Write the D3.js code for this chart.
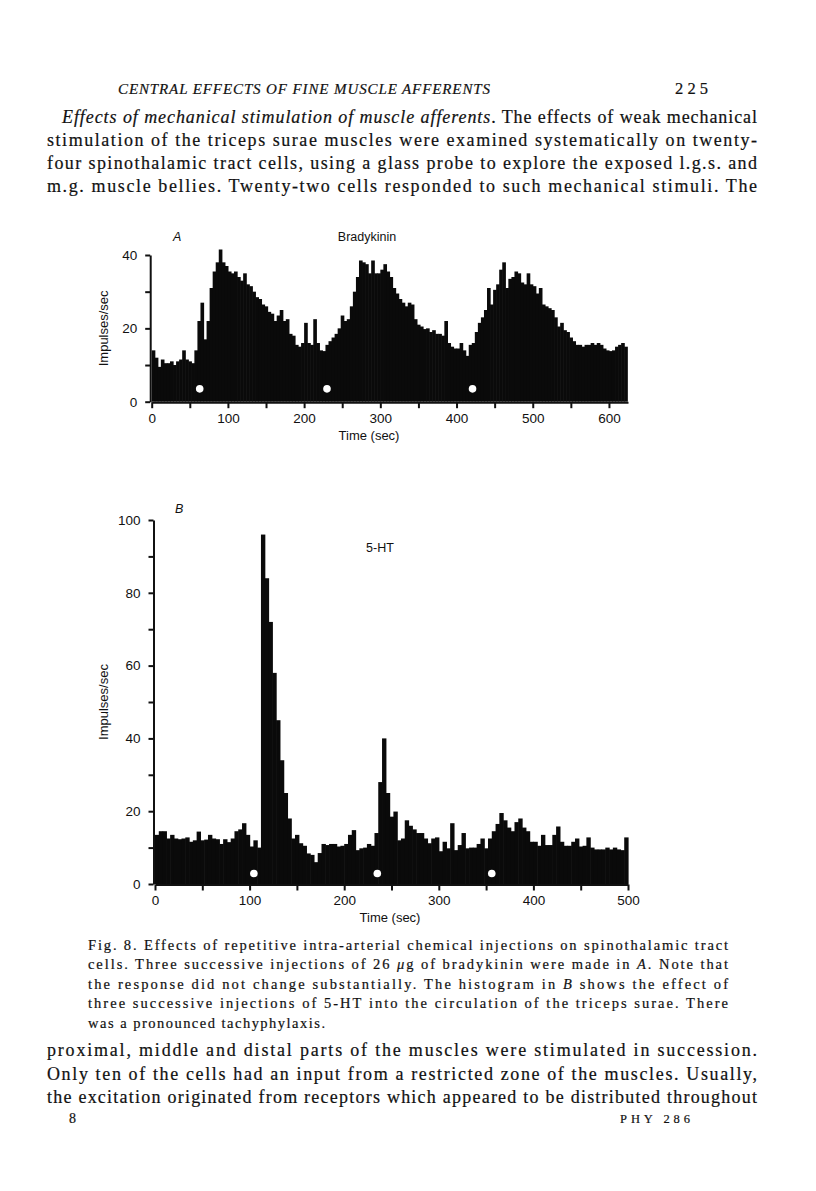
<!DOCTYPE html>
<html>
<head>
<meta charset="utf-8">
<script src="https://cdn.jsdelivr.net/npm/d3@7"></script>
<style>
  body { margin: 0; background: #fff; }
  svg { display: block; }
  .page { font-family: "Liberation Serif", "Times New Roman", serif; fill: #111; stroke: #111; stroke-width: 0.2px; }
  .lab { font-family: "Liberation Sans", Arial, sans-serif; fill: #111; }
  .axis path, .axis line { stroke: #111; stroke-width: 2; }
  .axis text { font-family: "Liberation Sans", Arial, sans-serif; font-size: 13.5px; fill: #111; }
</style>
</head>
<body>
<svg id="page" width="816" height="1191"></svg>
<script>
// bin width in seconds for both histograms
const binA = 4
const binB = 4

// A: bradykinin, impulses/sec per 4 s bin, 0-624 s
const bradykinin = [
  14, 12, 9.5, 11.5, 10.5, 10.5, 11, 10, 11, 11.5,
  14, 11.5, 11, 10.5, 14, 22, 27, 17, 22, 31,
  35.5, 38, 41.5, 38, 37, 35.5, 35, 35.5, 34, 33,
  35, 32, 31.5, 30, 28.5, 28, 26.5, 26, 24.5, 24,
  22, 23.5, 25, 22, 22.5, 18.5, 18, 15.5, 15, 16,
  21.5, 16, 15.5, 22.5, 16, 14, 13.8, 15.5, 16.5, 17.5,
  18.5, 20, 23.5, 22, 22.5, 26, 30, 34, 38.5, 38,
  37.5, 35, 38.5, 35, 35, 36, 37.5, 35.5, 34, 31,
  29.5, 28, 27, 26, 27, 26.5, 22.5, 21, 20.5, 19.8,
  20, 19, 19.5, 18.5, 18.5, 18, 22, 16, 15, 14.5,
  14.5, 16, 14, 12.5, 15.5, 16, 19, 21.5, 23, 25,
  31, 26.5, 30.5, 32, 36, 38, 31, 33.5, 34, 35.5,
  35, 32.5, 32, 35, 32, 31.5, 29.5, 31, 26.5, 26,
  25.5, 25, 23, 20.5, 21.5, 19.5, 19, 17.5, 16.5, 15.5,
  15.5, 15, 15.5, 15.5, 16, 15.5, 16, 15.5, 14.5, 14,
  13.8, 14, 15, 15.5, 16, 15
]

// B: 5-HT, impulses/sec per 4 s bin, 0-500 s
const serotonin = [
  13.5, 14.5, 14.5, 12.5, 13.5, 12.5, 12.3, 12.5, 12.8, 11.6,
  12, 14.4, 12, 12.2, 13.5, 12.5, 12.3, 11, 12.3, 11.5,
  12.5, 14.5, 15, 16.7, 13.5, 10.3, 12, 10, 96, 84,
  72, 58, 45, 34, 25, 18, 12.5, 13.5, 11.2, 10.5,
  8.4, 8, 6, 8.5, 11, 10.7, 11, 11, 10.3, 10.5,
  11, 13.5, 14.8, 9.3, 9.8, 10, 11, 10.5, 14, 28,
  40, 25, 18.5, 19.9, 12, 12.5, 17.5, 16, 15, 14,
  14, 12.5, 11.2, 12.5, 12.8, 9, 11.6, 9.8, 16.7, 9.3,
  10.7, 14, 9.8, 10, 10, 11, 12.5, 9.8, 12.5, 14.5,
  16.5, 19.5, 17.5, 15.5, 14.5, 17, 18, 15.5, 14.5, 11.6,
  11.6, 10.5, 13.5, 10.7, 10.7, 13.5, 15.8, 11.6, 10.5, 10.5,
  11.6, 12.5, 10.3, 10.5, 12.8, 10, 9.5, 9.5, 9.5, 10,
  9.5, 10, 9.5, 9.3, 12.8
]

// injection times (sec) and marker height (impulses/sec)
const injectA = [63, 230, 421]
const injectB = [104.5, 235, 356]
const dotLevelA = 3.5
const dotLevelB = 2.9

const svg = d3.select("#page")

svg.append("rect").attr("width", 816).attr("height", 1191).attr("fill", "#fff")

// ---------- page text ----------
function textLine(x, y, width, parts, size, anchor) {
  const t = svg.append("text").attr("class", "page")
    .attr("x", x).attr("y", y)
    .style("font-size", size + "px")
  if (anchor) t.attr("text-anchor", anchor)
  if (width) t.attr("textLength", width).attr("lengthAdjust", "spacing")
  parts.forEach(p => {
    const s = t.append("tspan").text(p[0])
    if (p[1] === "i") s.style("font-style", "italic")
  })
  return t
}

textLine(118, 94, 372, [["CENTRAL EFFECTS OF FINE MUSCLE AFFERENTS", "i"]], 15)
textLine(675, 94, 33, [["225"]], 16.5)

const bodyTop = [
  [[["Effects of mechanical stimulation of muscle afferents", "i"], [". The effects of weak mechanical"]], 62],
  [[["stimulation of the triceps surae muscles were examined systematically on twenty-"]], 47],
  [[["four spinothalamic tract cells, using a glass probe to explore the exposed l.g.s. and"]], 47],
  [[["m.g. muscle bellies. Twenty-two cells responded to such mechanical stimuli. The"]], 47]
]
bodyTop.forEach((l, i) => textLine(l[1], 123 + i * 23, 757 - l[1], l[0], 18))

const caption = [
  [["Fig. 8. Effects of repetitive intra-arterial chemical injections on spinothalamic tract"]],
  [["cells. Three successive injections of 26 "], ["\u03bc", "i"], ["g of bradykinin were made in "], ["A", "i"], [". Note that"]],
  [["the response did not change substantially. The histogram in "], ["B", "i"], [" shows the effect of"]],
  [["three successive injections of 5-HT into the circulation of the triceps surae. There"]]
]
caption.forEach((l, i) => textLine(88, 950 + i * 19.3, 640, l, 14.5))
textLine(88, 1028, 237, [["was a pronounced tachyphylaxis."]], 14.5)

const bodyBottom = [
  "proximal, middle and distal parts of the muscles were stimulated in succession.",
  "Only ten of the cells had an input from a restricted zone of the muscles. Usually,",
  "the excitation originated from receptors which appeared to be distributed throughout"
]
bodyBottom.forEach((l, i) => textLine(47, 1056 + i * 23.5, 710, [[l]], 18))
textLine(69, 1123, null, [["8"]], 14)
textLine(620, 1123, 70, [["PHY 286"]], 12.5)

// ---------- histogram helper ----------
function histogram(opt) {
  const g = svg.append("g")
  const x = opt.x, y = opt.y
  const w = x(opt.bin) - x(0)

  g.selectAll("rect.bin")
    .data(opt.values)
    .enter()
    .append("rect")
    .attr("class", "bin")
    .attr("x", (d, i) => x(i * opt.bin))
    .attr("width", w + 0.6)
    .attr("y", d => y(d))
    .attr("height", d => y(0) - y(d))
    .attr("fill", "#0a0a0a")

  g.selectAll("circle.inj")
    .data(opt.inject)
    .enter()
    .append("circle")
    .attr("class", "inj")
    .attr("cx", d => x(d))
    .attr("cy", y(opt.dotLevel))
    .attr("r", 3.8)
    .attr("fill", "#fff")

  const yAxis = d3.axisLeft(y)
    .tickValues(opt.yTicks)
    .tickFormat(d => opt.yLabels.includes(d) ? d : "")
    .tickSize(5).tickSizeOuter(0).tickPadding(8)
  g.append("g").attr("class", "axis")
    .attr("transform", "translate(" + (x(0) - 1.5) + ",0)")
    .call(yAxis)

  const xAxis = d3.axisBottom(x)
    .tickValues(opt.xTicks)
    .tickFormat(d => d % 100 === 0 ? d : "")
    .tickSize(6).tickSizeOuter(0).tickPadding(5)
  g.append("g").attr("class", "axis")
    .attr("transform", "translate(0," + (y(0) + 0.5) + ")")
    .call(xAxis)

  g.selectAll(".axis .domain").attr("stroke-width", 2.2)

  g.append("text").attr("class", "lab")
    .attr("x", opt.timeX)
    .attr("y", y(0) + 38)
    .attr("text-anchor", "middle")
    .style("font-size", "13px")
    .text("Time (sec)")

  const my = (y.range()[0] + y.range()[1]) / 2
  g.append("text").attr("class", "lab")
    .attr("transform", "translate(108," + my + ") rotate(-90)")
    .attr("text-anchor", "middle")
    .style("font-size", "13px")
    .text("Impulses/sec")

  g.append("text").attr("class", "lab")
    .attr("x", opt.letter[0]).attr("y", opt.letter[1])
    .style("font-size", "12.5px").style("font-style", "italic")
    .text(opt.letter[2])

  g.append("text").attr("class", "lab")
    .attr("x", opt.title[0]).attr("y", opt.title[1])
    .attr("text-anchor", "middle")
    .style("font-size", "12.5px")
    .text(opt.title[2])
}

histogram({
  values: bradykinin, bin: binA,
  x: d3.scaleLinear().domain([0, 625]).range([151.7, 628]),
  y: d3.scaleLinear().domain([0, 40]).range([401.7, 255]),
  yTicks: [0, 10, 20, 30, 40], yLabels: [0, 20, 40],
  xTicks: d3.range(0, 601, 50),
  inject: injectA, dotLevel: dotLevelA, timeX: 369,
  letter: [173, 241, "A"], title: [367, 241, "Bradykinin"]
})

histogram({
  values: serotonin, bin: binB,
  x: d3.scaleLinear().domain([0, 500]).range([155, 628]),
  y: d3.scaleLinear().domain([0, 100]).range([884, 520]),
  yTicks: d3.range(0, 101, 10), yLabels: [0, 20, 40, 60, 80, 100],
  xTicks: d3.range(0, 501, 50),
  inject: injectB, dotLevel: dotLevelB, timeX: 390,
  letter: [175, 513, "B"], title: [380, 552, "5-HT"]
})
</script>
</body>
</html>
